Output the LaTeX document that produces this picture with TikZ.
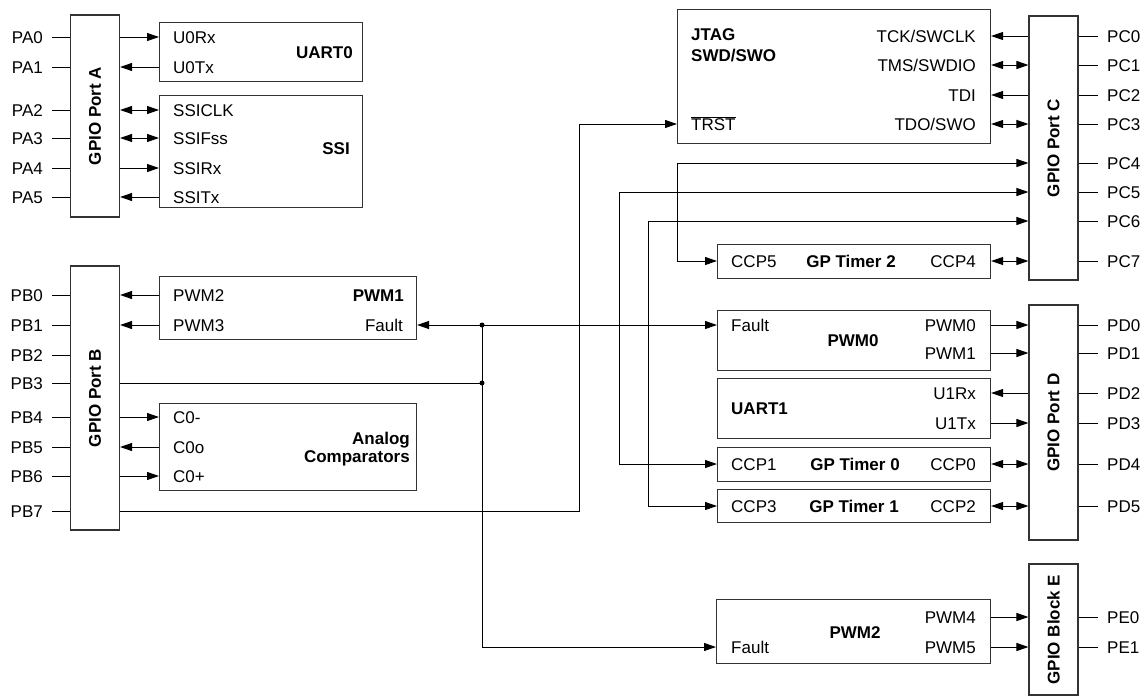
\documentclass[tikz,border=0pt]{standalone}
\usepackage{fontspec}
\setmainfont{Liberation Sans}
\usetikzlibrary{arrows.meta}
\begin{document}
\begin{tikzpicture}[x=1pt,y=-1pt,
  font=\fontsize{17}{20}\selectfont,
  box/.style={draw=black!80, line width=1.1pt, inner sep=0pt, anchor=north west},
  port/.style={draw=black!80, line width=1.1pt, inner sep=0pt, minimum width=49pt},
  lbl/.style={inner sep=0pt, text height=12.2pt, text depth=0pt},
  ttl/.style={lbl, font=\fontsize{17}{20}\selectfont\bfseries},
  plbl/.style={rotate=90, inner sep=0pt, font=\fontsize{17}{20}\selectfont\bfseries},
  conn/.style={line width=1pt, >={Triangle[length=12pt,width=8pt]}},
  stub/.style={line width=1pt},
  dot/.style={circle, fill=black, inner sep=0pt, minimum size=5pt}
]
\useasboundingbox (0,0) rectangle (1142,696);

% ---------------- GPIO Port A ----------------
\node[port, minimum height=202pt] (porta) at (95,116) {};
\node[plbl] at (porta.center) {GPIO Port A};
\foreach \n/\y in {PA0/37,PA1/67,PA2/110,PA3/138,PA4/168,PA5/197}{
  \node[lbl, anchor=east] (\n) at (43,\y) {\n};
  \draw[stub] (porta.west |- \n) -- ([xshift=9pt]\n.east);
}
\node[box, minimum width=203pt, minimum height=59pt] (uart0) at (159,22) {};
\node[lbl, anchor=west] (u0rx) at (173,37) {U0Rx};
\node[lbl, anchor=west] (u0tx) at (173,67) {U0Tx};
\node[ttl, anchor=east] (uart0t) at (353,52) {UART0};

\node[box, minimum width=203pt, minimum height=112pt] (ssi) at (159,95) {};
\node[lbl, anchor=west] (ssiclk) at (173,110) {SSICLK};
\node[lbl, anchor=west] (ssifss) at (173,138) {SSIFss};
\node[lbl, anchor=west] (ssirx) at (173,168) {SSIRx};
\node[lbl, anchor=west] (ssitx) at (173,197) {SSITx};
\node[ttl, anchor=east] (ssit) at (350,148) {SSI};

\draw[conn,->] (porta.east |- u0rx) -- (u0rx -| uart0.west);
\draw[conn,<-] (porta.east |- u0tx) -- (u0tx -| uart0.west);
\draw[conn,<->] (porta.east |- ssiclk) -- (ssiclk -| ssi.west);
\draw[conn,<->] (porta.east |- ssifss) -- (ssifss -| ssi.west);
\draw[conn,->] (porta.east |- ssirx) -- (ssirx -| ssi.west);
\draw[conn,<-] (porta.east |- ssitx) -- (ssitx -| ssi.west);

% ---------------- GPIO Port B ----------------
\node[port, minimum height=264pt] (portb) at (95,398) {};
\node[plbl] at (portb.center) {GPIO Port B};
\foreach \n/\y in {PB0/295,PB1/325,PB2/355,PB3/383,PB4/417,PB5/447,PB6/476,PB7/511}{
  \node[lbl, anchor=east] (\n) at (43,\y) {\n};
  \draw[stub] (portb.west |- \n) -- ([xshift=9pt]\n.east);
}
\node[box, minimum width=257pt, minimum height=63pt] (pwm1) at (159,276) {};
\node[lbl, anchor=west] (pwm2l) at (173,295) {PWM2};
\node[lbl, anchor=west] (pwm3l) at (173,325) {PWM3};
\node[ttl, anchor=east] (pwm1t) at (404,295) {PWM1};
\node[lbl, anchor=east] (fault1) at (403,325) {Fault};

\node[box, minimum width=257pt, minimum height=87pt] (comp) at (159,403) {};
\node[lbl, anchor=west] (c0m) at (173,417) {C0-};
\node[lbl, anchor=west] (c0o) at (173,447) {C0o};
\node[lbl, anchor=west] (c0p) at (173,476) {C0+};
\node[inner sep=0pt, anchor=east, align=right, font=\fontsize{17}{18}\selectfont\bfseries] (compt) at (410,449) {Analog\\Comparators};

\draw[conn,<-] (portb.east |- pwm2l) -- (pwm2l -| pwm1.west);
\draw[conn,<-] (portb.east |- pwm3l) -- (pwm3l -| pwm1.west);
\draw[conn,->] (portb.east |- c0m) -- (c0m -| comp.west);
\draw[conn,<-] (portb.east |- c0o) -- (c0o -| comp.west);
\draw[conn,->] (portb.east |- c0p) -- (c0p -| comp.west);

% ---------------- JTAG ----------------
\node[box, minimum width=313pt, minimum height=134pt] (jtag) at (677,9) {};
\node[inner sep=0pt, anchor=north west, align=left, font=\fontsize{17}{21}\selectfont\bfseries] (jtagt) at (691,28) {JTAG\\SWD/SWO};
\node[lbl, anchor=east] (tck) at (976,36) {TCK/SWCLK};
\node[lbl, anchor=east] (tms) at (976,65) {TMS/SWDIO};
\node[lbl, anchor=east] (tdi) at (976,95) {TDI};
\node[lbl, anchor=east] (tdo) at (976,124) {TDO/SWO};
\node[lbl, anchor=west] (trst) at (691,124) {$\overline{\mbox{TRST}}$};

% ---------------- GPIO Port C ----------------
\node[port, minimum height=264pt] (portc) at (1053.5,148) {};
\node[plbl] at (portc.center) {GPIO Port C};
\foreach \n/\y in {PC0/36,PC1/65,PC2/95,PC3/124,PC4/163,PC5/192,PC6/221,PC7/261}{
  \node[lbl, anchor=west] (\n) at (1107,\y) {\n};
  \draw[stub] (portc.east |- \n) -- ([xshift=-9pt]\n.west);
}
\draw[conn,<-] (tck -| jtag.east) -- (portc.west |- tck);
\draw[conn,<->] (tms -| jtag.east) -- (portc.west |- tms);
\draw[conn,<-] (tdi -| jtag.east) -- (portc.west |- tdi);
\draw[conn,<->] (tdo -| jtag.east) -- (portc.west |- tdo);

% ---------------- GP Timer 2 ----------------
\node[box, minimum width=273pt, minimum height=34pt] (gpt2) at (717,244) {};
\node[lbl, anchor=west] (ccp5) at (731,261) {CCP5};
\node[ttl] (gpt2t) at (851,261) {GP Timer 2};
\node[lbl, anchor=east] (ccp4) at (976,261) {CCP4};
\draw[conn,<->] (ccp4 -| gpt2.east) -- (portc.west |- ccp4);

% ---------------- PWM0 ----------------
\node[box, minimum width=273pt, minimum height=60pt] (pwm0) at (717,310) {};
\node[lbl, anchor=west] (fault0) at (731,325) {Fault};
\node[ttl] (pwm0t) at (853,340) {PWM0};
\node[lbl, anchor=east] (pwm0l) at (976,325) {PWM0};
\node[lbl, anchor=east] (pwm1l) at (976,353) {PWM1};

% ---------------- UART1 ----------------
\node[box, minimum width=273pt, minimum height=60pt] (uart1) at (717,378) {};
\node[ttl, anchor=west] (uart1t) at (731,408) {UART1};
\node[lbl, anchor=east] (u1rx) at (976,393) {U1Rx};
\node[lbl, anchor=east] (u1tx) at (976,423) {U1Tx};

% ---------------- GP Timer 0 / 1 ----------------
\node[box, minimum width=273pt, minimum height=34pt] (gpt0) at (717,447) {};
\node[lbl, anchor=west] (ccp1) at (731,464) {CCP1};
\node[ttl] (gpt0t) at (855,464) {GP Timer 0};
\node[lbl, anchor=east] (ccp0) at (976,464) {CCP0};

\node[box, minimum width=273pt, minimum height=33pt] (gpt1) at (717,489) {};
\node[lbl, anchor=west] (ccp3) at (731,506) {CCP3};
\node[ttl] (gpt1t) at (854,506) {GP Timer 1};
\node[lbl, anchor=east] (ccp2) at (976,506) {CCP2};

% ---------------- GPIO Port D ----------------
\node[port, minimum height=235pt] (portd) at (1053.5,422.5) {};
\node[plbl] at (portd.center) {GPIO Port D};
\foreach \n/\y in {PD0/325,PD1/353,PD2/393,PD3/423,PD4/464,PD5/506}{
  \node[lbl, anchor=west] (\n) at (1107,\y) {\n};
  \draw[stub] (portd.east |- \n) -- ([xshift=-9pt]\n.west);
}
\draw[conn,->] (pwm0l -| pwm0.east) -- (portd.west |- pwm0l);
\draw[conn,->] (pwm1l -| pwm0.east) -- (portd.west |- pwm1l);
\draw[conn,<-] (u1rx -| uart1.east) -- (portd.west |- u1rx);
\draw[conn,->] (u1tx -| uart1.east) -- (portd.west |- u1tx);
\draw[conn,<->] (ccp0 -| gpt0.east) -- (portd.west |- ccp0);
\draw[conn,<->] (ccp2 -| gpt1.east) -- (portd.west |- ccp2);

% ---------------- PWM2 ----------------
\node[box, minimum width=274pt, minimum height=64pt] (pwm2) at (716,599) {};
\node[lbl, anchor=west] (fault2) at (731,647) {Fault};
\node[ttl] (pwm2t) at (855,632) {PWM2};
\node[lbl, anchor=east] (pwm4l) at (976,617) {PWM4};
\node[lbl, anchor=east] (pwm5l) at (976,647) {PWM5};

% ---------------- GPIO Block E ----------------
\node[port, minimum height=131pt] (porte) at (1053.5,629.5) {};
\node[plbl] at (porte.center) {GPIO Block E};
\foreach \n/\y in {PE0/617,PE1/647}{
  \node[lbl, anchor=west] (\n) at (1107,\y) {\n};
  \draw[stub] (porte.east |- \n) -- ([xshift=-9pt]\n.west);
}
\draw[conn,->] (pwm4l -| pwm2.east) -- (porte.west |- pwm4l);
\draw[conn,->] (pwm5l -| pwm2.east) -- (porte.west |- pwm5l);

% ---------------- Routing ----------------
\node[dot] (j1) at (482,325) {};
\node[dot] (j2) at (482,383) {};
\coordinate (k7) at (579,0);
\coordinate (k4) at (677,0);
\coordinate (k5) at (619,0);
\coordinate (k6) at (648,0);

\draw[conn,<->] (fault1 -| pwm1.east) -- (fault0 -| pwm0.west);
\draw[conn] (portb.east |- PB3) -- (j2.center);
\draw[conn] (j1.center) -- (j2.center);
\draw[conn,->] (j2.center) |- (fault2 -| pwm2.west);
\draw[conn,->] (portb.east |- PB7) -- (k7 |- PB7) -- (k7 |- trst) -- (trst -| jtag.west);
\draw[conn,<->] (ccp5 -| gpt2.west) -- (k4 |- ccp5) -- (k4 |- PC4) -- (portc.west |- PC4);
\draw[conn,<->] (ccp1 -| gpt0.west) -- (k5 |- ccp1) -- (k5 |- PC5) -- (portc.west |- PC5);
\draw[conn,<->] (ccp3 -| gpt1.west) -- (k6 |- ccp3) -- (k6 |- PC6) -- (portc.west |- PC6);
\end{tikzpicture}
\end{document}
